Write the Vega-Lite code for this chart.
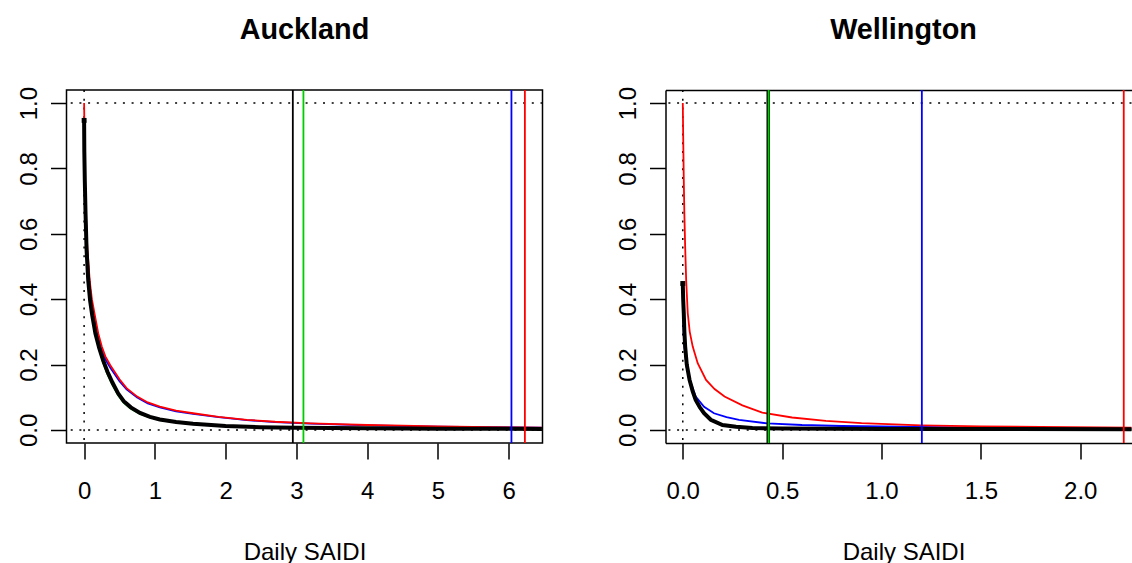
{
  "$schema": "https://vega.github.io/schema/vega-lite/v6.json",
  "padding": {"left": 15.5, "top": 15, "right": 0, "bottom": 0},
  "bounds": "flush",
  "spacing": 123,
  "background": "white",
  "config": {
    "font": "Liberation Sans",
    "view": {"stroke": "black", "strokeWidth": 1.5},
    "axis": {"grid": false, "domain": false, "ticks": true, "tickColor": "black", "tickSize": 16, "tickWidth": 1.5, "labelFont": "Liberation Sans", "labelFontSize": 24, "labelColor": "black", "labelFlush": false, "labelOverlap": false, "titleFont": "Liberation Sans", "titleFontSize": 24, "titleFontWeight": "normal", "titleColor": "black", "domainColor": "black", "domainWidth": 1.5},
    "title": {"font": "Liberation Sans", "fontSize": 28.8, "fontWeight": "bold", "color": "black", "anchor": "middle", "frame": "group", "baseline": "alphabetic", "offset": 41.6}
  },
  "datasets": {
    "curves": [
      {"c":"Auckland","s":"blue","x":0,"y":0.95},{"c":"Auckland","s":"blue","x":0.005,"y":0.87},{"c":"Auckland","s":"blue","x":0.013,"y":0.75},{"c":"Auckland","s":"blue","x":0.025,"y":0.64},{"c":"Auckland","s":"blue","x":0.045,"y":0.54},{"c":"Auckland","s":"blue","x":0.08,"y":0.44},{"c":"Auckland","s":"blue","x":0.11,"y":0.385},{"c":"Auckland","s":"blue","x":0.148,"y":0.34},{"c":"Auckland","s":"blue","x":0.2,"y":0.283},{"c":"Auckland","s":"blue","x":0.25,"y":0.245},{"c":"Auckland","s":"blue","x":0.3,"y":0.216},{"c":"Auckland","s":"blue","x":0.37,"y":0.19},{"c":"Auckland","s":"blue","x":0.5,"y":0.149},{"c":"Auckland","s":"blue","x":0.6,"y":0.124},{"c":"Auckland","s":"blue","x":0.75,"y":0.099},{"c":"Auckland","s":"blue","x":0.9,"y":0.081},{"c":"Auckland","s":"blue","x":1.07,"y":0.069},{"c":"Auckland","s":"blue","x":1.3,"y":0.057},{"c":"Auckland","s":"blue","x":1.54,"y":0.049},{"c":"Auckland","s":"blue","x":1.9,"y":0.039},{"c":"Auckland","s":"blue","x":2.3,"y":0.03},{"c":"Auckland","s":"blue","x":2.7,"y":0.024},{"c":"Auckland","s":"blue","x":3.2,"y":0.019},{"c":"Auckland","s":"blue","x":4.0,"y":0.014},{"c":"Auckland","s":"blue","x":5.0,"y":0.01},{"c":"Auckland","s":"blue","x":6.0,"y":0.0075},{"c":"Auckland","s":"blue","x":6.47,"y":0.0068},
      {"c":"Auckland","s":"green","x":0,"y":0.94},{"c":"Auckland","s":"green","x":0.003,"y":0.84},{"c":"Auckland","s":"green","x":0.01,"y":0.75},{"c":"Auckland","s":"green","x":0.02,"y":0.65},{"c":"Auckland","s":"green","x":0.035,"y":0.54},{"c":"Auckland","s":"green","x":0.058,"y":0.45},{"c":"Auckland","s":"green","x":0.085,"y":0.39},{"c":"Auckland","s":"green","x":0.115,"y":0.345},{"c":"Auckland","s":"green","x":0.16,"y":0.29},{"c":"Auckland","s":"green","x":0.214,"y":0.245},{"c":"Auckland","s":"green","x":0.27,"y":0.205},{"c":"Auckland","s":"green","x":0.33,"y":0.17},{"c":"Auckland","s":"green","x":0.4,"y":0.138},{"c":"Auckland","s":"green","x":0.48,"y":0.106},{"c":"Auckland","s":"green","x":0.56,"y":0.083},{"c":"Auckland","s":"green","x":0.66,"y":0.065},{"c":"Auckland","s":"green","x":0.79,"y":0.049},{"c":"Auckland","s":"green","x":0.93,"y":0.038},{"c":"Auckland","s":"green","x":1.07,"y":0.03},{"c":"Auckland","s":"green","x":1.3,"y":0.023},{"c":"Auckland","s":"green","x":1.54,"y":0.018},{"c":"Auckland","s":"green","x":2.0,"y":0.012},{"c":"Auckland","s":"green","x":2.48,"y":0.009},{"c":"Auckland","s":"green","x":3.0,"y":0.007},{"c":"Auckland","s":"green","x":4.0,"y":0.005},{"c":"Auckland","s":"green","x":5.0,"y":0.004},{"c":"Auckland","s":"green","x":6.47,"y":0.003},
      {"c":"Auckland","s":"red","x":0,"y":1.0},{"c":"Auckland","s":"red","x":0.005,"y":0.9},{"c":"Auckland","s":"red","x":0.013,"y":0.77},{"c":"Auckland","s":"red","x":0.025,"y":0.66},{"c":"Auckland","s":"red","x":0.045,"y":0.56},{"c":"Auckland","s":"red","x":0.08,"y":0.455},{"c":"Auckland","s":"red","x":0.11,"y":0.4},{"c":"Auckland","s":"red","x":0.148,"y":0.355},{"c":"Auckland","s":"red","x":0.2,"y":0.295},{"c":"Auckland","s":"red","x":0.25,"y":0.255},{"c":"Auckland","s":"red","x":0.3,"y":0.225},{"c":"Auckland","s":"red","x":0.37,"y":0.198},{"c":"Auckland","s":"red","x":0.5,"y":0.155},{"c":"Auckland","s":"red","x":0.6,"y":0.128},{"c":"Auckland","s":"red","x":0.75,"y":0.102},{"c":"Auckland","s":"red","x":0.9,"y":0.084},{"c":"Auckland","s":"red","x":1.07,"y":0.071},{"c":"Auckland","s":"red","x":1.3,"y":0.059},{"c":"Auckland","s":"red","x":1.54,"y":0.051},{"c":"Auckland","s":"red","x":1.9,"y":0.04},{"c":"Auckland","s":"red","x":2.3,"y":0.031},{"c":"Auckland","s":"red","x":2.7,"y":0.025},{"c":"Auckland","s":"red","x":3.2,"y":0.02},{"c":"Auckland","s":"red","x":4.0,"y":0.015},{"c":"Auckland","s":"red","x":5.0,"y":0.011},{"c":"Auckland","s":"red","x":6.0,"y":0.008},{"c":"Auckland","s":"red","x":6.47,"y":0.007},
      {"c":"Auckland","s":"black","x":0,"y":0.947},{"c":"Auckland","s":"black","x":0.003,"y":0.85},{"c":"Auckland","s":"black","x":0.01,"y":0.76},{"c":"Auckland","s":"black","x":0.02,"y":0.662},{"c":"Auckland","s":"black","x":0.035,"y":0.55},{"c":"Auckland","s":"black","x":0.058,"y":0.458},{"c":"Auckland","s":"black","x":0.085,"y":0.395},{"c":"Auckland","s":"black","x":0.115,"y":0.35},{"c":"Auckland","s":"black","x":0.16,"y":0.295},{"c":"Auckland","s":"black","x":0.214,"y":0.25},{"c":"Auckland","s":"black","x":0.27,"y":0.212},{"c":"Auckland","s":"black","x":0.33,"y":0.178},{"c":"Auckland","s":"black","x":0.4,"y":0.145},{"c":"Auckland","s":"black","x":0.48,"y":0.112},{"c":"Auckland","s":"black","x":0.56,"y":0.088},{"c":"Auckland","s":"black","x":0.66,"y":0.069},{"c":"Auckland","s":"black","x":0.79,"y":0.052},{"c":"Auckland","s":"black","x":0.93,"y":0.04},{"c":"Auckland","s":"black","x":1.07,"y":0.032},{"c":"Auckland","s":"black","x":1.3,"y":0.024},{"c":"Auckland","s":"black","x":1.54,"y":0.019},{"c":"Auckland","s":"black","x":2.0,"y":0.012},{"c":"Auckland","s":"black","x":2.48,"y":0.0085},{"c":"Auckland","s":"black","x":3.0,"y":0.0065},{"c":"Auckland","s":"black","x":4.0,"y":0.0048},{"c":"Auckland","s":"black","x":5.0,"y":0.0038},{"c":"Auckland","s":"black","x":6.47,"y":0.003},
      {"c":"Wellington","s":"blue","x":0,"y":0.44},{"c":"Wellington","s":"blue","x":0.002,"y":0.36},{"c":"Wellington","s":"blue","x":0.005,"y":0.29},{"c":"Wellington","s":"blue","x":0.009,"y":0.25},{"c":"Wellington","s":"blue","x":0.02,"y":0.19},{"c":"Wellington","s":"blue","x":0.037,"y":0.15},{"c":"Wellington","s":"blue","x":0.065,"y":0.102},{"c":"Wellington","s":"blue","x":0.107,"y":0.071},{"c":"Wellington","s":"blue","x":0.157,"y":0.051},{"c":"Wellington","s":"blue","x":0.22,"y":0.039},{"c":"Wellington","s":"blue","x":0.283,"y":0.031},{"c":"Wellington","s":"blue","x":0.425,"y":0.02},{"c":"Wellington","s":"blue","x":0.6,"y":0.015},{"c":"Wellington","s":"blue","x":0.8,"y":0.012},{"c":"Wellington","s":"blue","x":1.0,"y":0.011},{"c":"Wellington","s":"blue","x":1.2,"y":0.009},{"c":"Wellington","s":"blue","x":1.6,"y":0.006},{"c":"Wellington","s":"blue","x":2.26,"y":0.004},
      {"c":"Wellington","s":"green","x":0,"y":0.445},{"c":"Wellington","s":"green","x":0.002,"y":0.395},{"c":"Wellington","s":"green","x":0.005,"y":0.35},{"c":"Wellington","s":"green","x":0.008,"y":0.295},{"c":"Wellington","s":"green","x":0.012,"y":0.25},{"c":"Wellington","s":"green","x":0.02,"y":0.195},{"c":"Wellington","s":"green","x":0.034,"y":0.148},{"c":"Wellington","s":"green","x":0.05,"y":0.113},{"c":"Wellington","s":"green","x":0.065,"y":0.088},{"c":"Wellington","s":"green","x":0.085,"y":0.066},{"c":"Wellington","s":"green","x":0.107,"y":0.048},{"c":"Wellington","s":"green","x":0.141,"y":0.029},{"c":"Wellington","s":"green","x":0.2,"y":0.016},{"c":"Wellington","s":"green","x":0.268,"y":0.011},{"c":"Wellington","s":"green","x":0.35,"y":0.007},{"c":"Wellington","s":"green","x":0.5,"y":0.005},{"c":"Wellington","s":"green","x":1.0,"y":0.003},{"c":"Wellington","s":"green","x":2.26,"y":0.002},
      {"c":"Wellington","s":"red","x":0,"y":1.0},{"c":"Wellington","s":"red","x":0.002,"y":0.9},{"c":"Wellington","s":"red","x":0.005,"y":0.764},{"c":"Wellington","s":"red","x":0.008,"y":0.66},{"c":"Wellington","s":"red","x":0.012,"y":0.56},{"c":"Wellington","s":"red","x":0.017,"y":0.458},{"c":"Wellington","s":"red","x":0.025,"y":0.357},{"c":"Wellington","s":"red","x":0.035,"y":0.3},{"c":"Wellington","s":"red","x":0.05,"y":0.255},{"c":"Wellington","s":"red","x":0.075,"y":0.204},{"c":"Wellington","s":"red","x":0.117,"y":0.153},{"c":"Wellington","s":"red","x":0.16,"y":0.125},{"c":"Wellington","s":"red","x":0.21,"y":0.102},{"c":"Wellington","s":"red","x":0.3,"y":0.075},{"c":"Wellington","s":"red","x":0.4,"y":0.053},{"c":"Wellington","s":"red","x":0.55,"y":0.038},{"c":"Wellington","s":"red","x":0.72,"y":0.028},{"c":"Wellington","s":"red","x":0.9,"y":0.021},{"c":"Wellington","s":"red","x":1.2,"y":0.014},{"c":"Wellington","s":"red","x":1.5,"y":0.011},{"c":"Wellington","s":"red","x":1.8,"y":0.009},{"c":"Wellington","s":"red","x":2.26,"y":0.007},
      {"c":"Wellington","s":"black","x":0,"y":0.448},{"c":"Wellington","s":"black","x":0.002,"y":0.4},{"c":"Wellington","s":"black","x":0.005,"y":0.357},{"c":"Wellington","s":"black","x":0.008,"y":0.3},{"c":"Wellington","s":"black","x":0.012,"y":0.255},{"c":"Wellington","s":"black","x":0.02,"y":0.2},{"c":"Wellington","s":"black","x":0.034,"y":0.153},{"c":"Wellington","s":"black","x":0.05,"y":0.118},{"c":"Wellington","s":"black","x":0.065,"y":0.092},{"c":"Wellington","s":"black","x":0.085,"y":0.07},{"c":"Wellington","s":"black","x":0.107,"y":0.051},{"c":"Wellington","s":"black","x":0.141,"y":0.031},{"c":"Wellington","s":"black","x":0.2,"y":0.015},{"c":"Wellington","s":"black","x":0.268,"y":0.01},{"c":"Wellington","s":"black","x":0.35,"y":0.006},{"c":"Wellington","s":"black","x":0.5,"y":0.004},{"c":"Wellington","s":"black","x":1.0,"y":0.003},{"c":"Wellington","s":"black","x":2.26,"y":0.002}
    ],
    "vlines": [
      {"c":"Auckland","s":"black","x":2.95},{"c":"Auckland","s":"green","x":3.1},{"c":"Auckland","s":"blue","x":6.04},{"c":"Auckland","s":"red","x":6.23},
      {"c":"Wellington","s":"black","x":0.43},{"c":"Wellington","s":"green","x":0.432},{"c":"Wellington","s":"blue","x":1.203},{"c":"Wellington","s":"red","x":2.219}
    ],
    "hrefs": [{"v":0},{"v":1}],
    "vrefs": [{"v":0}]
  },
  "hconcat": [
    {
      "width": 476, "height": 353,
      "title": {"text": "Auckland"},
      "layer": [
        {"data": {"name": "hrefs"}, "mark": {"type": "rule", "color": "black", "strokeWidth": 1.5, "strokeDash": [2, 6.7]},
         "encoding": {"y": {"field": "v", "type": "quantitative", "scale": {"domain": [-0.04, 1.04], "nice": false, "zero": false},
           "axis": {"values": [0, 0.2, 0.4, 0.6, 0.8, 1], "format": ".1f", "labelAngle": -90, "labelAlign": "center", "labelBaseline": "alphabetic", "labelPadding": 14.5, "title": null}}}},
        {"data": {"name": "vrefs"}, "mark": {"type": "rule", "color": "black", "strokeWidth": 1.5, "strokeDash": [2, 6.7]},
         "encoding": {"x": {"field": "v", "type": "quantitative", "scale": {"domain": [-0.249, 6.479], "nice": false, "zero": false},
           "axis": {"values": [0, 1, 2, 3, 4, 5, 6], "format": "d", "labelPadding": 20, "title": "Daily SAIDI", "titleX": 238, "titleY": 116, "titleAlign": "center", "titleBaseline": "alphabetic"}}}},
        {"data": {"name": "curves"}, "transform": [{"filter": "datum.c == 'Auckland' && datum.s != 'black'"}],
         "mark": {"type": "line", "strokeWidth": 1.8, "clip": true},
         "encoding": {"x": {"field": "x", "type": "quantitative", "scale": {"domain": [-0.249, 6.479], "nice": false, "zero": false}},
           "y": {"field": "y", "type": "quantitative", "scale": {"domain": [-0.04, 1.04], "nice": false, "zero": false}},
           "color": {"field": "s", "type": "nominal", "scale": {"domain": ["black", "blue", "green", "red"], "range": ["#000000", "#0000FF", "#00CD00", "#FF0000"]}, "legend": null}}},
        {"data": {"name": "curves"}, "transform": [{"filter": "datum.c == 'Auckland' && datum.s == 'black'"}],
         "mark": {"type": "line", "strokeWidth": 4, "color": "black", "clip": true},
         "encoding": {"x": {"field": "x", "type": "quantitative"}, "y": {"field": "y", "type": "quantitative"}}},
        {"data": {"name": "curves"}, "transform": [{"filter": "datum.c == 'Auckland' && datum.s == 'black' && datum.x == 0"}],
         "mark": {"type": "square", "size": 24, "color": "black", "filled": true, "opacity": 1},
         "encoding": {"x": {"field": "x", "type": "quantitative"}, "y": {"field": "y", "type": "quantitative"}}},
        {"data": {"name": "vlines"}, "transform": [{"filter": "datum.c == 'Auckland'"}],
         "mark": {"type": "rule", "strokeWidth": 1.8},
         "encoding": {"x": {"field": "x", "type": "quantitative"},
           "color": {"field": "s", "type": "nominal", "scale": {"domain": ["black", "blue", "green", "red"], "range": ["#000000", "#0000FF", "#00CD00", "#FF0000"]}, "legend": null}}}
      ]
    },
    {
      "width": 466, "height": 353,
      "title": {"text": "Wellington", "dx": 5},
      "view": {"stroke": null},
      "resolve": {"axis": {"x": "independent"}},
      "layer": [
        {"data": {"name": "hrefs"}, "mark": {"type": "rule", "color": "black", "strokeWidth": 1.5, "strokeDash": [2, 6.7]},
         "encoding": {"y": {"field": "v", "type": "quantitative", "scale": {"domain": [-0.04, 1.04], "nice": false, "zero": false},
           "axis": {"values": [0, 0.2, 0.4, 0.6, 0.8, 1], "format": ".1f", "labelAngle": -90, "labelAlign": "center", "labelBaseline": "alphabetic", "labelPadding": 14.5, "title": null, "domain": true}}}},
        {"data": {"name": "vrefs"}, "mark": {"type": "rule", "color": "black", "strokeWidth": 1.5, "strokeDash": [2, 6.7]},
         "encoding": {"x": {"field": "v", "type": "quantitative", "scale": {"domain": [-0.087, 2.258], "nice": false, "zero": false},
           "axis": {"values": [0, 0.5, 1, 1.5, 2], "format": ".1f", "labelPadding": 20, "domain": true, "title": "Daily SAIDI", "titleX": 238, "titleY": 116, "titleAlign": "center", "titleBaseline": "alphabetic"}}}},
        {"data": {"name": "vrefs"}, "mark": {"type": "rule", "opacity": 0},
         "encoding": {"x": {"field": "v", "type": "quantitative", "scale": {"domain": [-0.087, 2.258], "nice": false, "zero": false},
           "axis": {"orient": "top", "labels": false, "ticks": false, "domain": true, "title": null}}}},
        {"data": {"name": "curves"}, "transform": [{"filter": "datum.c == 'Wellington' && datum.s != 'black'"}],
         "mark": {"type": "line", "strokeWidth": 1.8, "clip": true},
         "encoding": {"x": {"field": "x", "type": "quantitative", "scale": {"domain": [-0.087, 2.258], "nice": false, "zero": false}, "axis": null},
           "y": {"field": "y", "type": "quantitative", "scale": {"domain": [-0.04, 1.04], "nice": false, "zero": false}},
           "color": {"field": "s", "type": "nominal", "scale": {"domain": ["black", "blue", "green", "red"], "range": ["#000000", "#0000FF", "#00CD00", "#FF0000"]}, "legend": null}}},
        {"data": {"name": "curves"}, "transform": [{"filter": "datum.c == 'Wellington' && datum.s == 'black'"}],
         "mark": {"type": "line", "strokeWidth": 4, "color": "black", "clip": true},
         "encoding": {"x": {"field": "x", "type": "quantitative", "axis": null}, "y": {"field": "y", "type": "quantitative"}}},
        {"data": {"name": "curves"}, "transform": [{"filter": "datum.c == 'Wellington' && datum.s == 'black' && datum.x == 0"}],
         "mark": {"type": "square", "size": 24, "color": "black", "filled": true, "opacity": 1},
         "encoding": {"x": {"field": "x", "type": "quantitative", "axis": null}, "y": {"field": "y", "type": "quantitative"}}},
        {"data": {"name": "vlines"}, "transform": [{"filter": "datum.c == 'Wellington' && datum.s == 'black'"}],
         "mark": {"type": "rule", "strokeWidth": 3.5, "color": "black"},
         "encoding": {"x": {"field": "x", "type": "quantitative", "axis": null}}},
        {"data": {"name": "vlines"}, "transform": [{"filter": "datum.c == 'Wellington' && datum.s != 'black'"}],
         "mark": {"type": "rule", "strokeWidth": 1.8},
         "encoding": {"x": {"field": "x", "type": "quantitative", "axis": null},
           "color": {"field": "s", "type": "nominal", "scale": {"domain": ["black", "blue", "green", "red"], "range": ["#000000", "#0000FF", "#00CD00", "#FF0000"]}, "legend": null}}}
      ]
    }
  ]
}
